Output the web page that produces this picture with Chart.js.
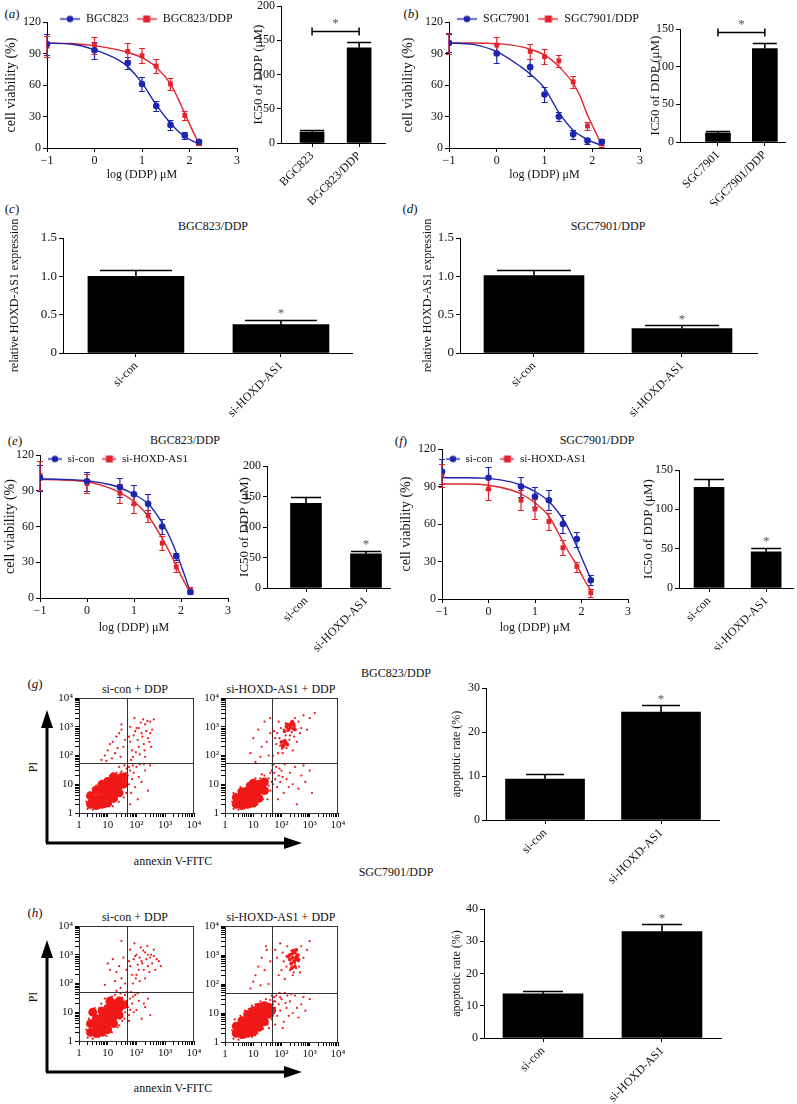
<!DOCTYPE html>
<html>
<head>
<meta charset="utf-8">
<title>HOXD-AS1 and DDP resistance</title>
<script src="https://cdn.jsdelivr.net/npm/chart.js@4.4.1/dist/chart.umd.min.js"></script>
<style>
  html, body { margin: 0; padding: 0; background: #fff; }
  body { position: relative; width: 797px; height: 1104px; overflow: hidden;
         font-family: 'Liberation Serif', 'DejaVu Serif', serif; color: #111; }
  .t { position: absolute; white-space: nowrap; transform: translate(-50%, -50%); font-size: 12px; line-height: 1; }
  .tag { font-size: 13px; }
  .rot { transform: translate(-50%, -50%) rotate(-90deg); }
  svg { position: absolute; left: 0; top: 0; }
</style>
</head>
<body>
<svg width="797" height="1104">
  <!-- axes arrows of the flow panels -->
  <g stroke="#000" stroke-width="3" fill="#000">
    <line x1="47" y1="843" x2="47" y2="724"/><polygon stroke="none" points="47,710 41,728 53,728"/>
    <line x1="46" y1="843" x2="288" y2="843"/><polygon stroke="none" points="302,843 284,837 284,849"/>
    <line x1="47" y1="1072" x2="47" y2="954"/><polygon stroke="none" points="47,940 41,958 53,958"/>
    <line x1="46" y1="1072" x2="288" y2="1072"/><polygon stroke="none" points="302,1072 284,1066 284,1078"/>
  </g>
</svg>

<div class="t tag" style="left:12px;top:13px">(<i>a</i>)</div>
<div class="t tag" style="left:411px;top:13px">(<i>b</i>)</div>
<div class="t tag" style="left:12px;top:208px">(<i>c</i>)</div>
<div class="t tag" style="left:410px;top:208px">(<i>d</i>)</div>
<div class="t tag" style="left:15px;top:440px">(<i>e</i>)</div>
<div class="t tag" style="left:401px;top:440px">(<i>f</i>)</div>
<div class="t tag" style="left:35px;top:683px">(<i>g</i>)</div>
<div class="t tag" style="left:35px;top:912px">(<i>h</i>)</div>

<div class="t" style="left:213px;top:226px">BGC823/DDP</div>
<div class="t" style="left:608px;top:226px">SGC7901/DDP</div>
<div class="t" style="left:185px;top:440px">BGC823/DDP</div>
<div class="t" style="left:597px;top:440px">SGC7901/DDP</div>
<div class="t" style="left:396px;top:673px">BGC823/DDP</div>
<div class="t" style="left:396px;top:872px">SGC7901/DDP</div>

<div class="t" style="left:135px;top:689px">si-con + DDP</div>
<div class="t" style="left:281px;top:689px">si-HOXD-AS1 + DDP</div>
<div class="t" style="left:135px;top:917px">si-con + DDP</div>
<div class="t" style="left:281px;top:917px">si-HOXD-AS1 + DDP</div>

<div class="t rot" style="left:33px;top:767px">PI</div>
<div class="t rot" style="left:33px;top:997px">PI</div>
<div class="t" style="left:173px;top:861px">annexin V-FITC</div>
<div class="t" style="left:173px;top:1088px">annexin V-FITC</div>

<script>
// ---- data ----
const doseLog = [-1, 0, 0.7, 1, 1.3, 1.6, 1.9, 2.2];
const fitLog = [-1, -0.5, 0, 0.5, 0.7, 1, 1.3, 1.6, 1.75, 1.9, 2.05, 2.2];
const doseTickLabels = ['\u22121', '0', '1', '2', '3'];
const decadeLabels = ['1', '10', '10\u00b2', '10\u00b3', '10\u2074'];

// (a) BGC823
const bgcVia = [99, 93, 81, 61, 40, 22, 12, 6];
const bgcErr = [10, 8, 6, 7, 5, 5, 3, 2];
const bgcFit = [99.7, 99, 93.5, 84, 77.5, 62, 41, 23.5, 16.5, 11, 7, 4];
const bgcDdpVia = [97, 98, 92, 88, 78, 61, 31, 5];
const bgcDdpErr = [10, 8, 8, 7, 7, 6, 4, 2];
const bgcDdpFit = [100, 99.5, 97.5, 93.5, 91, 86, 77, 61, 48, 33, 18, 4];
const ic50ACats = ['BGC823', 'BGC823/DDP'];
const ic50A = [16, 139];
const ic50AErr = [3, 9];

// (b) SGC7901
const sgcVia = [100, 90, 77, 51, 30, 13, 7, 6];
const sgcErr = [9, 9, 8, 7, 4, 4, 3, 3];
const sgcFit = [100, 98.7, 91.7, 77.5, 70.5, 57, 34, 17, 12, 8, 5, 2.5];
const sgcDdpVia = [100, 98, 92, 87, 83, 63, 21, 4];
const sgcDdpErr = [10, 8, 7, 7, 6, 6, 4, 3];
const sgcDdpFit = [100, 100, 99.4, 96.5, 94, 88.6, 77.5, 61.6, 49, 31.4, 17, 3];
const ic50BCats = ['SGC7901', 'SGC7901/DDP'];
const ic50B = [12, 124];
const ic50BErr = [2, 8];

// (c), (d) knock-down
const siCats = ['si-con', 'si-HOXD-AS1'];
const exprBgc = [1.0, 0.37];
const exprBgcErr = [0.08, 0.06];
const exprSgc = [1.01, 0.32];
const exprSgcErr = [0.07, 0.04];

// (e) BGC823/DDP
const eConVia = [101, 98, 93, 87, 79, 60, 35, 5];
const eConErr = [11, 8, 8, 8, 8, 6, 3, 2];
const eConFit = [100, 99.5, 98.5, 95, 92.5, 87, 79, 63, 52, 38, 22, 5];
const eSiVia = [103, 96, 88, 79, 69, 46, 26, 7];
const eSiErr = [12, 8, 8, 8, 5, 6, 4, 2];
const eSiFit = [99.5, 99, 97.5, 92, 88.5, 81, 69, 50, 39, 27, 15, 4];
const ic50E = [139, 56];
const ic50EErr = [10, 5];

// (f) SGC7901/DDP
const fConVia = [102, 97, 90, 82, 79, 60, 48, 15];
const fConErr = [10, 9, 8, 8, 8, 7, 6, 4];
const fConFit = [97, 97, 96.5, 93.5, 91, 86, 78, 64, 54, 42, 29, 16];
const fSiVia = [99, 88, 79, 72, 62, 41, 26, 5];
const fSiErr = [9, 9, 8, 8, 7, 6, 4, 3];
const fSiFit = [92, 92, 91, 87, 84, 77, 66, 46, 36, 27, 16, 7];
const ic50F = [128, 46];
const ic50FErr = [10, 5];

// (g), (h) apoptosis
const apoG = [9.3, 24.5];
const apoGErr = [1.2, 1.6];
const apoH = [13.7, 33];
const apoHErr = [0.9, 2.3];

// flow cytometry events [annexin V, PI]; gates [annexin, PI]
const gateG = [[47, 55], [45, 55]];
const gateH = [[47, 50], [45, 48]];

const g1Core = [[2.5,2],[2.5,4],[4,1.8],[4,3.2],[4,6.3],[6.3,2],[6.3,3.5],[6.3,6.3],[6.3,10],[10,2.2],[10,4],[10,7],[10,12.6],[16,3.2],[16,5.6],[16,10],[16,18],[25,5],[25,9],[25,16],[35,10],[35,18],[3,2.8],[8,5],[13,8],[20,13]];
const g1Dense = [];
const g1Events = [[2,1.4],[3,1.3],[5,1.5],[8,1.6],[12,2],[20,3],[30,5],[40,8],[45,14],[42,25],[30,28],[20,25],[12,20],[7,12],[4,9],[2.2,5],[3,7],[45,35],[38,45],[25,40],
  [1.8,2.5],[2,3.5],[3.5,8],[5,11],[9,16],[15,24],[28,24],[40,20],[44,5],[36,3.5],[24,2.4],[15,1.7],
  [60,300],[80,500],[100,900],[150,600],[200,1200],[250,400],[300,1500],[120,200],[70,150],[90,700],[180,250],[350,800],[400,1800],[60,1000],[140,1400],[220,700],[110,350],[75,90],[95,130],[130,110],[160,450],[280,300],[320,200],[55,450],[200,90],[240,1600],[85,2000],[170,1800],[65,70],[300,600],[120,900],[190,150],
  [6,70],[8,100],[10,150],[12,250],[15,300],[20,450],[25,600],[30,800],[35,200],[18,120],[40,350],[28,90],[14,80],[22,180],[9,65],[30,1200],
  [50,20],[55,10],[60,30],[70,15],[80,25],[90,8],[100,40],[120,18],[150,12],[200,30],[250,6],[300,45],[65,5],[110,3],[180,50],[130,50],[55,40],[75,45],[60,2]];

const g2Core = [[2.5,2],[2.5,3.5],[4,1.8],[4,3.2],[4,5.5],[6.3,2],[6.3,3.5],[6.3,6],[10,2.2],[10,4],[10,7],[10,11],[16,3.2],[16,6],[16,10],[25,6],[25,12],[8,9],[3,2.6],[13,5],[20,8]];
const g2Dense = [[150,1000],[200,1100],[250,900],[180,800],[220,1300],[160,1200],[270,1200],[300,800],[130,700],[240,1500],[120,230],[140,280],[110,200],[130,320],[160,240],[100,300]];
const g2Events = [[2,1.4],[3,1.3],[5,1.5],[8,1.6],[14,2],[22,3],[30,5],[35,9],[35,16],[25,20],[18,16],[12,16],[6,10],[3,6],[2,5],[40,25],[45,12],
  [1.8,2.5],[3.5,8],[9,14],[20,22],[32,3],[40,6],[28,14],
  [150,1000],[180,1200],[200,900],[250,1100],[120,800],[220,1400],[300,1000],[170,700],[260,800],[140,1300],[230,650],[190,950],[280,1300],[160,850],[100,250],[120,200],[110,300],[150,180],[130,350],[90,220],[160,260],[105,170],[125,280],[300,2000],[400,1500],[500,900],[70,600],[80,1500],[60,400],[200,500],[350,300],[250,150],[600,2500],[1000,2000],[800,800],[1500,3000],[50,100],[75,120],[55,700],[450,600],[280,450],[190,350],[140,500],[110,120],[95,900],[65,250],[85,400],
  [10,400],[15,800],[8,120],[20,200],[25,1500],[30,300],[12,60],[35,100],[40,2000],[18,90],[40,600],
  [50,10],[55,25],[60,15],[65,40],[70,8],[80,20],[90,12],[100,30],[120,5],[150,15],[200,25],[250,10],[300,40],[400,7],[500,20],[700,12],[1000,30],[1200,5],[45,30],[48,45],[52,50],[75,3],[350,2],[600,45],[130,50],[180,8],[85,35],[110,18]];

const h1Core = [[2.5,2],[2.5,4],[4,1.8],[4,3.2],[4,6],[6.3,2],[6.3,3.5],[6.3,6.3],[6.3,11],[10,2.5],[10,4.5],[10,8],[10,14],[16,4],[16,7],[16,12],[16,20],[25,8],[25,14],[25,25],[12,25],[35,18],[3,10],[8,5.5],[13,10],[20,16]];
const h1Dense = [];
const h1Events = [[2,1.3],[3,1.2],[5,1.4],[9,1.5],[14,2],[22,3],[32,5],[40,10],[45,25],[40,40],[28,45],[18,40],[9,22],[5,14],[2.2,6],[20,55],[45,50],[8,30],
  [1.8,2.5],[2,4],[3.5,14],[6,20],[14,35],[32,32],[42,15],[38,6],[25,3.5],
  [60,400],[80,700],[100,1000],[150,600],[200,1200],[250,400],[300,800],[120,300],[70,200],[90,900],[180,300],[350,500],[400,1500],[60,1500],[140,1800],[220,700],[110,450],[75,100],[95,150],[130,120],[160,500],[280,250],[450,300],[55,600],[500,700],[240,2000],[85,2500],[170,1400],[320,1000],[600,600],[700,400],[200,150],[130,800],[250,1000],[100,200],[400,900],
  [10,500],[12,300],[15,700],[20,250],[25,400],[30,150],[35,800],[18,120],[40,100],[28,70],[8,90],[45,300],[30,3000],
  [50,15],[55,8],[60,30],[70,20],[80,10],[90,40],[100,12],[120,25],[150,6],[200,15],[250,30],[300,8],[65,50],[110,45],[180,20],[55,5],[60,12],[75,35]];

const h2Core = [[2.5,2],[2.5,3.5],[4,1.8],[4,3.2],[4,5.5],[6.3,2],[6.3,3.5],[6.3,6],[6.3,9],[10,2.2],[10,4],[10,7],[10,12],[16,3.2],[16,6],[16,10],[16,16],[25,5],[25,10],[25,18],[35,9],[35,16],[45,12],[3,2.6],[13,5],[20,8]];
const h2Dense = [[200,1000],[250,800],[300,1200],[350,900],[280,600],[240,1100],[320,700],[220,500],[300,400],[380,1000],[260,1400],[200,700],[170,900],[400,700],[330,1500],[230,350]];
const h2Events = [[2,1.3],[3,1.2],[5,1.4],[9,1.5],[14,2],[22,2.8],[32,4],[45,6],[50,20],[40,28],[28,30],[18,25],[9,18],[5,12],[2.2,6],[55,15],[60,25],[45,40],
  [1.8,2.5],[3.5,8],[7,14],[12,20],[50,8],[55,35],[36,3],
  [200,1000],[250,800],[300,1200],[350,900],[280,600],[220,1400],[320,700],[260,400],[240,1100],[380,1000],[300,500],[180,700],[150,900],[400,600],[200,300],[350,1500],[270,250],[150,400],[120,600],[100,300],[80,200],[70,800],[60,1500],[90,2500],[500,2000],[600,800],[800,1500],[1000,3000],[450,250],[130,150],[110,1200],[160,2000],[250,200],[330,350],[420,400],[230,550],[310,850],[270,1300],[190,900],[360,650],
  [10,120],[15,400],[20,800],[25,300],[30,1500],[12,200],[35,100],[40,600],[18,90],[8,70],[28,2000],
  [50,10],[55,25],[60,15],[65,40],[70,8],[80,20],[90,12],[100,30],[120,5],[150,15],[200,25],[250,10],[300,40],[400,7],[500,20],[700,12],[1000,30],[130,50],[180,8],[60,4],[90,35],[140,22],[220,45],[350,15],[600,35],[85,50],[110,3],[160,40]];

// ---- setup ----
const SERIF = "'Liberation Serif', 'DejaVu Serif', serif";
Chart.defaults.font.family = SERIF;
Chart.defaults.font.size = 12;
Chart.defaults.color = '#111';
Chart.defaults.animation = false;
Chart.defaults.responsive = false;
Chart.defaults.devicePixelRatio = 1;
Chart.defaults.plugins.tooltip.enabled = false;
Chart.defaults.plugins.legend.display = false;

const BLUE = '#1c25b0';
const RED = '#e3232b';
const DOT = '#f01818';

const logTicks = [];
for (let d = 0; d < 4; d++) for (let s = 1; s < 10; s++) logTicks.push(s * Math.pow(10, d));
logTicks.push(1e4);

function decadeLabel(v) {
  const l = Math.log10(v), r = Math.round(l);
  return Math.abs(l - r) < 1e-9 ? decadeLabels[r] : '';
}

function mount(box) {
  const c = document.createElement('canvas');
  c.width = box[2];
  c.height = box[3];
  c.style.cssText = `position:absolute;left:${box[0]}px;top:${box[1]}px;width:${box[2]}px;height:${box[3]}px`;
  document.body.appendChild(c);
  return c;
}

// box = canvas [x, y, w, h]; area = wanted plot area [left, top, right, bottom], page pixels
function frame(box, area, padLeft = 0) {
  return {
    padding: { left: padLeft, top: area[1] - box[1], right: box[0] + box[2] - area[2], bottom: 0 },
    yW: area[0] - box[0] - padLeft,
    xH: box[1] + box[3] - area[3]
  };
}

function axis(size, horizontal, o) {
  const a = {
    type: o.type || 'linear',
    offset: false,
    afterFit: s => {
      if (horizontal) s.height = size; else s.width = size;
      // keep label overhang from shrinking the plot area
      s.paddingLeft = 0; s.paddingRight = 0; s.paddingTop = 0; s.paddingBottom = 0;
      if (s._margins) { s._margins.left = 0; s._margins.right = 0; s._margins.top = 0; s._margins.bottom = 0; }
    },
    border: { display: true, color: '#000', width: 1 },
    grid: { display: true, offset: false, drawOnChartArea: false, drawTicks: true, tickLength: o.tickLen || 4, color: '#000', lineWidth: 1 },
    ticks: { autoSkip: false, padding: 2, color: '#111', font: { size: o.font || 12 },
             minRotation: o.rot || 0, maxRotation: o.rot || 0 },
    title: { display: false }
  };
  if (o.min !== undefined) a.min = o.min;
  if (o.max !== undefined) a.max = o.max;
  if (o.step) a.ticks.stepSize = o.step;
  if (o.fmt) a.ticks.callback = o.fmt;
  if (o.ticksAt) a.afterBuildTicks = s => { s.ticks = o.ticksAt.map(v => ({ value: v })); };
  if (o.title) a.title = { display: true, text: o.title, padding: 0, color: '#111', font: { size: o.titleSize || 12 } };
  return a;
}

// ---- plugins ----
function drawErrs(chart, after) {
  const ctx = chart.ctx, y = chart.scales.y;
  chart.data.datasets.forEach((ds, i) => {
    if (!ds.err || !!ds.errAfter !== after) return;
    const meta = chart.getDatasetMeta(i);
    const cap = ds.errCap || 3;
    ctx.save();
    ctx.strokeStyle = ds.errColor;
    ctx.lineWidth = ds.errWidth || 1.2;
    meta.data.forEach((el, j) => {
      const v = ds.data[j].y, e = ds.err[j];
      const top = Math.round(y.getPixelForValue(v + e)) + 0.5;
      const bot = ds.errUp ? el.y : Math.round(y.getPixelForValue(v - e)) + 0.5;
      ctx.beginPath();
      ctx.moveTo(el.x, top); ctx.lineTo(el.x, bot);
      ctx.moveTo(el.x - cap, top); ctx.lineTo(el.x + cap, top);
      if (!ds.errUp) { ctx.moveTo(el.x - cap, bot); ctx.lineTo(el.x + cap, bot); }
      ctx.stroke();
    });
    ctx.restore();
  });
}
const errPlugin = {
  id: 'errs',
  beforeDatasetsDraw(chart) { drawErrs(chart, false); },
  afterDatasetsDraw(chart) { drawErrs(chart, true); }
};

const sigPlugin = {
  id: 'sig',
  afterDatasetsDraw(chart, args, o) {
    const ds = chart.data.datasets[0], meta = chart.getDatasetMeta(0), y = chart.scales.y, ctx = chart.ctx;
    ctx.save();
    ctx.fillStyle = '#555';
    ctx.font = '13px ' + SERIF;
    ctx.textAlign = 'center';
    ctx.textBaseline = 'middle';
    (o.stars || []).forEach((on, i) => {
      if (!on) return;
      const top = y.getPixelForValue(ds.data[i].y + ds.err[i]);
      ctx.fillText('*', meta.data[i].x, top - 6);
    });
    if (o.bracket) {
      const x0 = meta.data[0].x, x1 = meta.data[1].x;
      const yb = Math.round(y.getPixelForValue(o.bracket)) + 0.5;
      ctx.strokeStyle = '#000';
      ctx.lineWidth = 1.5;
      ctx.beginPath();
      ctx.moveTo(x0, yb - 4); ctx.lineTo(x0, yb + 4);
      ctx.moveTo(x0, yb); ctx.lineTo(x1, yb);
      ctx.moveTo(x1, yb - 4); ctx.lineTo(x1, yb + 4);
      ctx.stroke();
      ctx.fillText('*', (x0 + x1) / 2, yb - 8);
    }
    ctx.restore();
  }
};

const gatePlugin = {
  id: 'gate',
  afterDatasetsDraw(chart, args, o) {
    const { ctx, chartArea: a, scales } = chart;
    const gx = Math.round(scales.x.getPixelForValue(o.x)) + 0.5;
    const gy = Math.round(scales.y.getPixelForValue(o.y)) + 0.5;
    ctx.save();
    ctx.strokeStyle = '#333';
    ctx.lineWidth = 1;
    ctx.strokeRect(Math.round(a.left) + 0.5, Math.round(a.top) + 0.5, Math.round(a.width) - 1, Math.round(a.height));
    ctx.beginPath();
    ctx.moveTo(gx, a.top); ctx.lineTo(gx, a.bottom);
    ctx.moveTo(a.left, gy); ctx.lineTo(a.right, gy);
    ctx.stroke();
    ctx.restore();
  }
};

// the legend only reserves a 1px strip; move it to its spot and open its clip box
const legendShift = {
  id: 'legendShift',
  afterLayout(chart, args, o) {
    const lg = chart.legend;
    if (!lg || o.x === undefined) return;
    const pad = o.pad;
    const dx = o.x - (lg.left + pad), dy = o.y - (lg.top + pad + o.size / 2);
    lg.left += dx; lg.right += dx; lg.top += dy;
    lg.bottom = lg.top + o.size + pad * 2 + 6;
    lg.height = lg.bottom - lg.top;
  }
};

function legendIcon(color, shape, w) {
  const c = document.createElement('canvas');
  c.width = w; c.height = 9;
  const g = c.getContext('2d');
  g.strokeStyle = color; g.fillStyle = color; g.lineWidth = 1.4;
  g.beginPath(); g.moveTo(0, 4.5); g.lineTo(w, 4.5); g.stroke();
  if (shape === 'rect') g.fillRect(w / 2 - 3.5, 1, 7, 7);
  else { g.beginPath(); g.arc(w / 2, 4.5, 3.3, 0, Math.PI * 2); g.fill(); }
  return c;
}

// ---- chart builders ----
function doseChart(spec) {
  const f = frame(spec.box, spec.area);
  f.padding.top -= 1; // 1px strip taken by the legend
  const icons = spec.series.map(s => legendIcon(s.color, s.shape, spec.legend.iconW));
  const datasets = [];
  spec.series.forEach(s => datasets.push({
    label: s.label,
    data: doseLog.map((x, i) => ({ x, y: s.vals[i] })),
    err: s.err, errColor: s.color, errCap: 3,
    showLine: false, pointStyle: s.shape, pointRadius: s.shape === 'rect' ? 3.4 : 3.3,
    pointBackgroundColor: s.color, pointBorderColor: s.color, pointBorderWidth: 0, borderColor: s.color
  }));
  spec.series.forEach(s => datasets.push({
    label: s.label + ' fit',
    data: fitLog.map((x, i) => ({ x, y: s.fit[i] })),
    showLine: true, pointRadius: 0, borderColor: s.color, borderWidth: 1.4,
    tension: 0.4, cubicInterpolationMode: 'monotone'
  }));
  return new Chart(mount(spec.box), {
    type: 'scatter',
    data: { datasets },
    options: {
      layout: { padding: f.padding },
      scales: {
        x: axis(f.xH, true, { min: -1, max: 3, step: 1, fmt: (v, i) => doseTickLabels[i], title: 'log (DDP) \u03bcM' }),
        y: axis(f.yW, false, { min: 0, max: 120, step: 30, title: 'cell viability (%)', titleSize: 14 })
      },
      plugins: {
        legend: {
          display: true, position: 'top', align: 'start', maxHeight: 1,
          labels: {
            usePointStyle: true, pointStyleWidth: spec.legend.iconW, padding: spec.legend.pad,
            color: '#111', font: { size: spec.legend.size },
            filter: item => item.datasetIndex < 2,
            generateLabels: chart => Chart.defaults.plugins.legend.labels.generateLabels(chart)
              .map(it => Object.assign(it, { pointStyle: icons[it.datasetIndex] }))
          }
        },
        legendShift: spec.legend
      }
    },
    plugins: [errPlugin, legendShift]
  });
}

function barChart(spec) {
  const f = frame(spec.box, spec.area, spec.padLeft || 0);
  return new Chart(mount(spec.box), {
    type: 'bar',
    data: { datasets: [{
      data: spec.vals.map((v, i) => ({ x: i, y: v })),
      err: spec.errs, errAfter: true, errUp: true, errCap: spec.cap, errColor: '#000', errWidth: 1.6,
      backgroundColor: '#000', borderWidth: 0, barThickness: spec.thick
    }] },
    options: {
      layout: { padding: f.padding },
      scales: {
        x: axis(f.xH, true, { min: spec.xr[0], max: spec.xr[1], ticksAt: spec.cats.map((c, i) => i),
                              fmt: v => spec.cats[v] || '', rot: 45, font: 12 }),
        y: axis(f.yW, false, { min: 0, max: spec.yMax, step: spec.yStep, title: spec.yTitle,
                               titleSize: spec.titleSize || 12, font: spec.tickFont || 12, fmt: spec.yFmt })
      },
      plugins: { sig: { stars: spec.stars || [], bracket: spec.bracket } }
    },
    plugins: [errPlugin, sigPlugin]
  });
}

function flowChart(spec) {
  const f = frame(spec.box, spec.area);
  const pts = a => a.map(([x, y]) => ({ x, y }));
  return new Chart(mount(spec.box), {
    type: 'scatter',
    data: { datasets: [
      { data: pts(spec.events), pointRadius: 1.1, pointBackgroundColor: DOT, pointBorderWidth: 0 },
      { data: pts(spec.dense), pointRadius: 1.9, pointBackgroundColor: DOT, pointBorderWidth: 0 },
      { data: pts(spec.core), pointRadius: 4.4, pointBackgroundColor: DOT, pointBorderWidth: 0 }
    ] },
    options: {
      layout: { padding: f.padding },
      scales: {
        x: axis(f.xH, true, { type: 'logarithmic', min: 1, max: 1e4, ticksAt: logTicks, fmt: decadeLabel, font: 11 }),
        y: axis(f.yW, false, { type: 'logarithmic', min: 1, max: 1e4, ticksAt: logTicks, fmt: decadeLabel, font: 11 })
      },
      plugins: { gate: { x: spec.gate[0], y: spec.gate[1] } }
    },
    plugins: [gatePlugin]
  });
}

// ---- panels ----
const legendBig = { size: 12, iconW: 20, pad: 8 };
const legendSmall = { size: 11, iconW: 14, pad: 8 };

doseChart({
  box: [3, 0, 250, 182], area: [47, 22, 237, 148],
  series: [
    { label: 'BGC823', color: BLUE, shape: 'circle', vals: bgcVia, err: bgcErr, fit: bgcFit },
    { label: 'BGC823/DDP', color: RED, shape: 'rect', vals: bgcDdpVia, err: bgcDdpErr, fit: bgcDdpFit }
  ],
  legend: Object.assign({ x: 57, y: 19 }, legendBig)
});
barChart({
  box: [251, -4, 144, 210], area: [281, 6, 385, 143], xr: [-0.66, 1.55],
  cats: ic50ACats, vals: ic50A, errs: ic50AErr, thick: 24, cap: 12,
  yMax: 200, yStep: 50, yTitle: 'IC50 of DDP (\u03bcM)', titleSize: 13, bracket: 163
});

doseChart({
  box: [400, 0, 250, 182], area: [449, 22, 640, 148],
  series: [
    { label: 'SGC7901', color: BLUE, shape: 'circle', vals: sgcVia, err: sgcErr, fit: sgcFit },
    { label: 'SGC7901/DDP', color: RED, shape: 'rect', vals: sgcDdpVia, err: sgcDdpErr, fit: sgcDdpFit }
  ],
  legend: Object.assign({ x: 57, y: 19 }, legendBig)
});
barChart({
  box: [648, -4, 149, 210], area: [680, 29, 785, 142], xr: [-0.81, 1.43],
  cats: ic50BCats, vals: ic50B, errs: ic50BErr, thick: 25, cap: 12,
  yMax: 150, yStep: 50, yTitle: 'IC50 of DDP (\u03bcM)', titleSize: 13, bracket: 146
});

barChart({
  box: [8, 205, 360, 215], area: [63, 238, 352, 353], xr: [-0.503, 1.49],
  cats: siCats, vals: exprBgc, errs: exprBgcErr, thick: 96, cap: 36,
  yMax: 1.5, yStep: 0.5, yTitle: 'relative HOXD-AS1 expression', tickFont: 13,
  yFmt: v => (v === 0 ? '0' : v.toFixed(1)), stars: [false, true]
});
barChart({
  box: [421, 205, 376, 215], area: [460, 238, 757, 353], xr: [-0.5, 1.507],
  cats: siCats, vals: exprSgc, errs: exprSgcErr, thick: 100, cap: 37,
  yMax: 1.5, yStep: 0.5, yTitle: 'relative HOXD-AS1 expression', tickFont: 13,
  yFmt: v => (v === 0 ? '0' : v.toFixed(1)), stars: [false, true]
});

doseChart({
  box: [2, 445, 240, 190], area: [40, 455, 228, 598],
  series: [
    { label: 'si-con', color: BLUE, shape: 'circle', vals: eConVia, err: eConErr, fit: eConFit },
    { label: 'si-HOXD-AS1', color: RED, shape: 'rect', vals: eSiVia, err: eSiErr, fit: eSiFit }
  ],
  legend: Object.assign({ x: 46, y: 14 }, legendSmall)
});
barChart({
  box: [212, 448, 185, 214], area: [267, 466, 390, 588], xr: [-0.65, 1.4], padLeft: 25,
  cats: siCats, vals: ic50E, errs: ic50EErr, thick: 31, cap: 15,
  yMax: 200, yStep: 50, yTitle: 'IC50 of DDP (\u03bcM)', titleSize: 13, stars: [false, true]
});

doseChart({
  box: [398, 440, 245, 195], area: [442, 449, 628, 599],
  series: [
    { label: 'si-con', color: BLUE, shape: 'circle', vals: fConVia, err: fConErr, fit: fConFit },
    { label: 'si-HOXD-AS1', color: RED, shape: 'rect', vals: fSiVia, err: fSiErr, fit: fSiFit }
  ],
  legend: Object.assign({ x: 48, y: 19 }, legendSmall)
});
barChart({
  box: [641, 460, 156, 190], area: [679, 470, 793, 588], xr: [-0.526, 1.47],
  cats: siCats, vals: ic50F, errs: ic50FErr, thick: 30, cap: 15,
  yMax: 150, yStep: 50, yTitle: 'IC50 of DDP (\u03bcM)', titleSize: 13, stars: [false, true]
});

flowChart({ box: [50, 690, 155, 150], area: [79, 698, 194, 813], core: g1Core, dense: g1Dense, events: g1Events, gate: gateG[0] });
flowChart({ box: [196, 690, 155, 150], area: [225, 698, 338, 813], core: g2Core, dense: g2Dense, events: g2Events, gate: gateG[1] });
barChart({
  box: [450, 680, 290, 212], area: [486, 688, 719, 820], xr: [-0.509, 1.5],
  cats: siCats, vals: apoG, errs: apoGErr, thick: 79, cap: 19,
  yMax: 30, yStep: 10, yTitle: 'apoptotic rate (%)', stars: [false, true]
});

flowChart({ box: [50, 918, 155, 150], area: [79, 926, 194, 1041], core: h1Core, dense: h1Dense, events: h1Events, gate: gateH[0] });
flowChart({ box: [196, 918, 155, 150], area: [225, 926, 338, 1042], core: h2Core, dense: h2Dense, events: h2Events, gate: gateH[1] });
barChart({
  box: [450, 900, 290, 204], area: [484, 909, 721, 1038], xr: [-0.496, 1.496],
  cats: siCats, vals: apoH, errs: apoHErr, thick: 80, cap: 20,
  yMax: 40, yStep: 10, yTitle: 'apoptotic rate (%)', stars: [false, true]
});
</script>
</body>
</html>
